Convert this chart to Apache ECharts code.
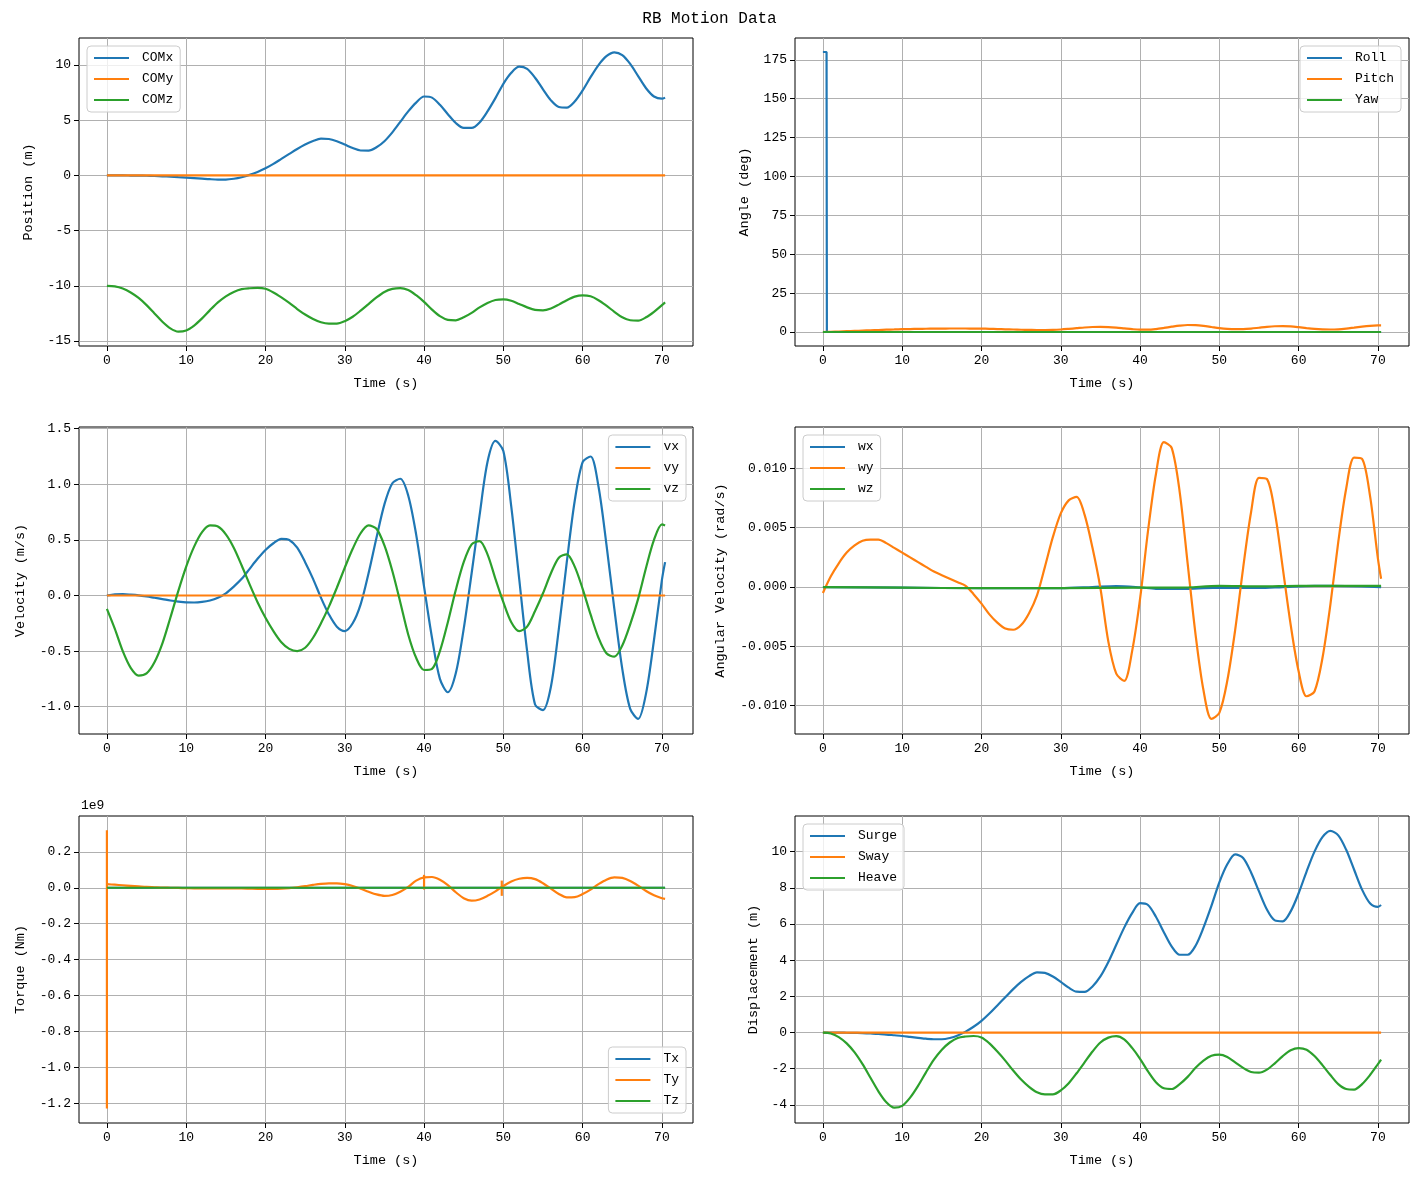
<!DOCTYPE html>
<html>
<head>
<meta charset="utf-8">
<title>RB Motion Data</title>
<script src="https://cdn.jsdelivr.net/npm/echarts@6/dist/echarts.min.js"></script>
<style>
    html, body { margin: 0; padding: 0; background: #fff; }
    #chart { width: 1419px; height: 1180px; }
</style>
</head>
<body>
<div id="chart"></div>
<script>
/**
 * RB Motion Data - six panel motion plot
 * Values (1 s sampling)
 */

// time base (s)
const time = [0, 1, 2, 3, 4, 5, 6, 7, 8, 9, 10, 11, 12, 13, 14, 15, 16, 17, 18, 19, 20,
    21, 22, 23, 24, 25, 26, 27, 28, 29, 30, 31, 32, 33, 34, 35, 36, 37, 38, 39, 40,
    41, 42, 43, 44, 45, 46, 47, 48, 49, 50, 51, 52, 53, 54, 55, 56, 57, 58, 59, 60,
    61, 62, 63, 64, 65, 66, 67, 68, 69, 70, 70.4];

// position / surge (m)
const comX = [0, 0, 0, -0.01, -0.02, -0.03, -0.05, -0.08, -0.11, -0.15, -0.19, -0.24, -0.29, -0.34, -0.37, -0.37, -0.3, -0.16, 0.05, 0.32, 0.65,
    1.05, 1.5, 1.95, 2.4, 2.8, 3.12, 3.33, 3.3, 3.1, 2.8, 2.48, 2.26, 2.25, 2.55, 3.1, 3.9, 4.85, 5.8, 6.6, 7.15,
    7.05, 6.4, 5.55, 4.75, 4.3, 4.3, 4.8, 5.8, 7.0, 8.3, 9.3, 9.85, 9.65, 8.85, 7.8, 6.8, 6.2, 6.15, 6.7, 7.7,
    8.9, 10.0, 10.8, 11.15, 10.9, 10.1, 9.0, 7.9, 7.15, 6.95, 7.05];
const comZ = [-10, -10.05, -10.25, -10.6, -11.1, -11.75, -12.5, -13.25, -13.85, -14.15, -14.05, -13.6, -12.95, -12.2, -11.5, -10.95, -10.55, -10.3, -10.22, -10.19, -10.27,
    -10.6, -11.05, -11.55, -12.1, -12.6, -13.0, -13.3, -13.42, -13.42, -13.2, -12.8, -12.25, -11.65, -11.05, -10.55, -10.28, -10.2, -10.38, -10.85, -11.45,
    -12.15, -12.75, -13.08, -13.12, -12.85, -12.45, -11.95, -11.55, -11.28, -11.22, -11.35, -11.65, -11.95, -12.18, -12.22, -12.05, -11.7, -11.3, -10.98, -10.86,
    -10.95, -11.3, -11.8, -12.35, -12.85, -13.12, -13.15, -12.85, -12.35, -11.75, -11.5];
const heave = [0, -0.05, -0.25, -0.6, -1.1, -1.75, -2.5, -3.25, -3.85, -4.15, -4.05, -3.6, -2.95, -2.2, -1.5, -0.95, -0.55, -0.3, -0.22, -0.19, -0.27,
    -0.6, -1.05, -1.55, -2.1, -2.6, -3.0, -3.3, -3.42, -3.42, -3.2, -2.8, -2.25, -1.65, -1.05, -0.55, -0.28, -0.2, -0.38, -0.85, -1.45,
    -2.15, -2.75, -3.08, -3.12, -2.85, -2.45, -1.95, -1.55, -1.28, -1.22, -1.35, -1.65, -1.95, -2.18, -2.22, -2.05, -1.7, -1.3, -0.98, -0.86,
    -0.95, -1.3, -1.8, -2.35, -2.85, -3.12, -3.15, -2.85, -2.35, -1.75, -1.5];

// angles (deg)
const pitch = [0, 0.1, 0.3, 0.5, 0.7, 0.9, 1.1, 1.3, 1.5, 1.65, 1.8, 1.9, 2.0, 2.1, 2.15, 2.2, 2.25, 2.25, 2.25, 2.2, 2.15,
    2.05, 1.9, 1.75, 1.6, 1.45, 1.35, 1.25, 1.25, 1.35, 1.6, 2.0, 2.45, 2.9, 3.2, 3.3, 3.15, 2.8, 2.3, 1.8, 1.5,
    1.5, 1.9, 2.6, 3.4, 4.1, 4.5, 4.4, 3.9, 3.2, 2.5, 2.0, 1.8, 1.85, 2.2, 2.75, 3.3, 3.7, 3.8, 3.6, 3.1,
    2.5, 2.0, 1.7, 1.6, 1.75, 2.2, 2.8, 3.4, 3.9, 4.25, 4.3];
const rollT = [0, 0.46, 0.5, 70.4];
const rollV = [180, 180, 0, 0];

// velocities (m/s)
const vx = [0, 0.01, 0.012, 0.008, 0.002, -0.008, -0.02, -0.032, -0.045, -0.055, -0.062, -0.063, -0.058, -0.045, -0.02, 0.02, 0.08, 0.15, 0.24, 0.33, 0.41,
    0.47, 0.51, 0.5, 0.43, 0.3, 0.15, -0.02, -0.17, -0.28, -0.32, -0.25, -0.08, 0.2, 0.52, 0.82, 1.01, 1.05, 0.9, 0.55, 0.08,
    -0.38, -0.75, -0.87, -0.7, -0.3, 0.2, 0.72, 1.2, 1.39, 1.3, 0.8, 0.15, -0.5, -0.98, -1.03, -0.82, -0.3, 0.3, 0.85, 1.2,
    1.25, 0.98, 0.46, -0.12, -0.66, -1.02, -1.11, -0.88, -0.4, 0.14, 0.3];
const vz = [-0.12, -0.3, -0.5, -0.65, -0.72, -0.7, -0.6, -0.43, -0.2, 0.04, 0.26, 0.44, 0.57, 0.63, 0.62, 0.55, 0.43, 0.27, 0.1, -0.06, -0.2,
    -0.32, -0.42, -0.48, -0.5, -0.47, -0.38, -0.25, -0.1, 0.07, 0.25, 0.42, 0.56, 0.63, 0.6, 0.45, 0.22, -0.06, -0.35, -0.56, -0.67,
    -0.66, -0.5, -0.24, 0.05, 0.3, 0.46, 0.49, 0.37, 0.15, -0.06, -0.24, -0.32, -0.28, -0.14, 0.02, 0.2, 0.34, 0.37, 0.26, 0.06,
    -0.17, -0.38, -0.52, -0.55, -0.45, -0.26, -0.03, 0.25, 0.5, 0.64, 0.63];

// angular velocities (rad/s)
const wy = [-0.0005, 0.0009, 0.0020, 0.0029, 0.0035, 0.0039, 0.0040, 0.0040, 0.0037, 0.0033, 0.0029, 0.0025, 0.0021, 0.0017, 0.0013, 0.0010, 0.0007, 0.0004, 0.0001, -0.0006, -0.0014,
    -0.0023, -0.0030, -0.0035, -0.0036, -0.0032, -0.0022, -0.0007, 0.0017, 0.0042, 0.0062, 0.0073, 0.0076, 0.0061, 0.0033, -0.0001, -0.0046, -0.0073, -0.0079, -0.0054, -0.0010,
    0.0047, 0.0095, 0.0122, 0.0117, 0.0080, 0.0020, -0.0040, -0.0087, -0.0111, -0.0106, -0.0079, -0.0036, 0.0016, 0.0063, 0.0092, 0.0091, 0.0063, 0.0016, -0.0032, -0.0071,
    -0.0092, -0.0088, -0.0060, -0.0015, 0.0038, 0.0083, 0.0109, 0.0108, 0.0077, 0.0024, 0.0007];
const wxT = [0, 10, 20, 30, 34, 37, 40, 42, 46, 50, 55, 58, 62, 66, 70.4];
const wxV = [0, -0.00005, -0.0001, -0.0001, 0, 0.00008, -0.00003, -0.00015, -0.00015, -0.00005, -0.00008, 0, 0.0001, 0.00008, 0];
const wzT = [0, 10, 20, 30, 40, 45, 50, 55, 60, 65, 70.4];
const wzV = [0, -0.00005, -0.0001, -0.0001, -0.00005, -0.00005, 0.0001, 0.00005, 0.0001, 0.0001, 0.0001];

// torque (x 1e9 Nm)
const ty = [0.02, 0.017, 0.014, 0.011, 0.008, 0.005, 0.003, 0.001, 0, -0.001, -0.002, -0.003, -0.003, -0.003, -0.003, -0.003, -0.004, -0.004, -0.005, -0.006, -0.006,
    -0.006, -0.005, -0.002, 0.003, 0.009, 0.016, 0.022, 0.025, 0.025, 0.02, 0.01, -0.005, -0.022, -0.037, -0.045, -0.04, -0.022, 0.005, 0.04, 0.058,
    0.06, 0.045, 0.015, -0.025, -0.058, -0.072, -0.065, -0.045, -0.02, 0.01, 0.035, 0.05, 0.055, 0.048, 0.025, -0.005, -0.035, -0.053, -0.052, -0.035,
    -0.01, 0.02, 0.045, 0.058, 0.055, 0.038, 0.012, -0.018, -0.042, -0.058, -0.062];
const tySpikeT = [0, 40, 49.8];
const tySpikeHigh = [0.32, 0.072, 0.04];
const tySpikeLow = [-1.23, -0.01, -0.045];

// channels that stay at zero
const flatT = [0, 70.4];
const flatV = [0, 0];

// tick labels
const timeTicks = [0, 10, 20, 30, 40, 50, 60, 70];
const posTicks = [-15, -10, -5, 0, 5, 10];
const angleTicks = [0, 25, 50, 75, 100, 125, 150, 175];
const velTicks = [-1.0, -0.5, 0, 0.5, 1.0, 1.5];
const angVelTicks = [-0.010, -0.005, 0, 0.005, 0.010];
const torqueTicks = [-1.2, -1.0, -0.8, -0.6, -0.4, -0.2, 0, 0.2];
const dispTicks = [-4, -2, 0, 2, 4, 6, 8, 10];

const FONT = '"Liberation Mono", "DejaVu Sans Mono", monospace';
const BLUE = '#1f77b4';
const ORANGE = '#ff7f0e';
const GREEN = '#2ca02c';

/**
 * Build a line series on panel idx
 */
function lineSeries(name, idx, color, xs, ys, smooth) {
    return {
        type: 'line',
        name: name,
        xAxisIndex: idx,
        yAxisIndex: idx,
        data: xs.map((x, i) => [x, ys[i]]),
        showSymbol: false,
        smooth: smooth ? 0.3 : false,
        lineStyle: { color: color, width: 2.2 },
        itemStyle: { color: color },
        emphasis: { disabled: true },
        silent: true
    };
}

function xAxis(idx) {
    return {
        type: 'value',
        gridIndex: idx,
        min: -3.52,
        max: 73.92,
        name: 'Time (s)',
        nameLocation: 'middle',
        nameGap: 30,
        nameTextStyle: { fontFamily: FONT, fontSize: 13.5, color: '#000' },
        axisLine: { show: false, onZero: false },
        axisTick: { show: true, length: 5, customValues: timeTicks, lineStyle: { color: '#000', width: 1 } },
        axisLabel: { customValues: timeTicks, margin: 8, fontFamily: FONT, fontSize: 13, color: '#000' },
        splitLine: { show: true, lineStyle: { color: '#b0b0b0', width: 1 } }
    };
}

function yAxis(idx, name, min, max, ticks, decimals, nameGap) {
    return {
        type: 'value',
        gridIndex: idx,
        min: min,
        max: max,
        name: name,
        nameLocation: 'middle',
        nameGap: nameGap,
        nameTextStyle: { fontFamily: FONT, fontSize: 13.5, color: '#000' },
        axisLine: { show: false, onZero: false },
        axisTick: { show: true, length: 5, customValues: ticks, lineStyle: { color: '#000', width: 1 } },
        axisLabel: {
            customValues: ticks,
            margin: 8,
            fontFamily: FONT,
            fontSize: 13,
            color: '#000',
            formatter: (v) => v.toFixed(decimals)
        },
        splitLine: { show: true, lineStyle: { color: '#b0b0b0', width: 1 } }
    };
}

function legend(names, pos) {
    return Object.assign({
        data: names,
        orient: 'vertical',
        icon: 'rect',
        itemWidth: 35,
        itemHeight: 2,
        itemGap: 7,
        padding: [5, 7, 5, 7],
        backgroundColor: 'rgba(255,255,255,0.8)',
        borderColor: '#cccccc',
        borderWidth: 1,
        borderRadius: 4,
        selectedMode: false,
        itemStyle: { borderWidth: 0 },
        textStyle: { fontFamily: FONT, fontSize: 13, color: '#000', lineHeight: 14, padding: [0, 0, 0, 8] }
    }, pos);
}

const grids = [
    { left: 79, top: 38, width: 614, height: 308 },
    { left: 795, top: 38, width: 614, height: 308 },
    { left: 79, top: 427, width: 614, height: 307 },
    { left: 795, top: 427, width: 614, height: 307 },
    { left: 79, top: 816, width: 614, height: 307 },
    { left: 795, top: 816, width: 614, height: 307 }
].map(g => Object.assign({ show: true, borderColor: '#000', borderWidth: 1, backgroundColor: 'transparent' }, g));

const series = [
    // position
    lineSeries('COMx', 0, BLUE, time, comX, true),
    lineSeries('COMy', 0, ORANGE, flatT, flatV, false),
    lineSeries('COMz', 0, GREEN, time, comZ, true),
    // angle
    lineSeries('Roll', 1, BLUE, rollT, rollV, false),
    lineSeries('Pitch', 1, ORANGE, time, pitch, true),
    lineSeries('Yaw', 1, GREEN, flatT, flatV, false),
    // velocity
    lineSeries('vx', 2, BLUE, time, vx, true),
    lineSeries('vy', 2, ORANGE, flatT, flatV, false),
    lineSeries('vz', 2, GREEN, time, vz, true),
    // angular velocity
    lineSeries('wx', 3, BLUE, wxT, wxV, true),
    lineSeries('wy', 3, ORANGE, time, wy, true),
    lineSeries('wz', 3, GREEN, wzT, wzV, true),
    // torque
    lineSeries('Tx', 4, BLUE, flatT, flatV, false),
    lineSeries('Ty', 4, ORANGE, time, ty, true)
];
// torque glitches drawn as short vertical strokes, same legend entry
tySpikeT.forEach((t, i) => {
    series.push(lineSeries('Ty', 4, ORANGE, [t, t], [tySpikeHigh[i], tySpikeLow[i]], false));
});
series.push(
    lineSeries('Tz', 4, GREEN, flatT, flatV, false),
    // displacement
    lineSeries('Surge', 5, BLUE, time, comX, true),
    lineSeries('Sway', 5, ORANGE, flatT, flatV, false),
    lineSeries('Heave', 5, GREEN, time, heave, true)
);

const chart = echarts.init(document.getElementById('chart'), null, { renderer: 'canvas' });

chart.setOption({
    animation: false,
    backgroundColor: '#fff',
    title: {
        text: 'RB Motion Data',
        left: 'center',
        top: 6,
        textStyle: { fontFamily: FONT, fontSize: 16, fontWeight: 'normal', color: '#000' }
    },
    graphic: [{
        type: 'text',
        left: 81,
        top: 799,
        style: { text: '1e9', font: '13px ' + FONT, fill: '#000' }
    }],
    grid: grids,
    xAxis: [0, 1, 2, 3, 4, 5].map(xAxis),
    yAxis: [
        yAxis(0, 'Position (m)', -15.45, 12.45, posTicks, 0, 44),
        yAxis(1, 'Angle (deg)', -9, 189, angleTicks, 0, 44),
        yAxis(2, 'Velocity (m/s)', -1.2455, 1.5155, velTicks, 1, 52),
        yAxis(3, 'Angular Velocity (rad/s)', -0.01238, 0.01348, angVelTicks, 3, 68),
        yAxis(4, 'Torque (Nm)', -1.311, 0.40, torqueTicks, 1, 52),
        yAxis(5, 'Displacement (m)', -5.0, 11.97, dispTicks, 0, 35)
    ],
    legend: [
        legend(['COMx', 'COMy', 'COMz'], { left: 87, top: 46 }),
        legend(['Roll', 'Pitch', 'Yaw'], { right: 18, top: 46 }),
        legend(['vx', 'vy', 'vz'], { right: 733, top: 435 }),
        legend(['wx', 'wy', 'wz'], { left: 803, top: 435 }),
        legend(['Tx', 'Ty', 'Tz'], { right: 733, top: 1047 }),
        legend(['Surge', 'Sway', 'Heave'], { left: 803, top: 824 })
    ],
    series: series
});

window.addEventListener('resize', () => chart.resize());
</script>
</body>
</html>
